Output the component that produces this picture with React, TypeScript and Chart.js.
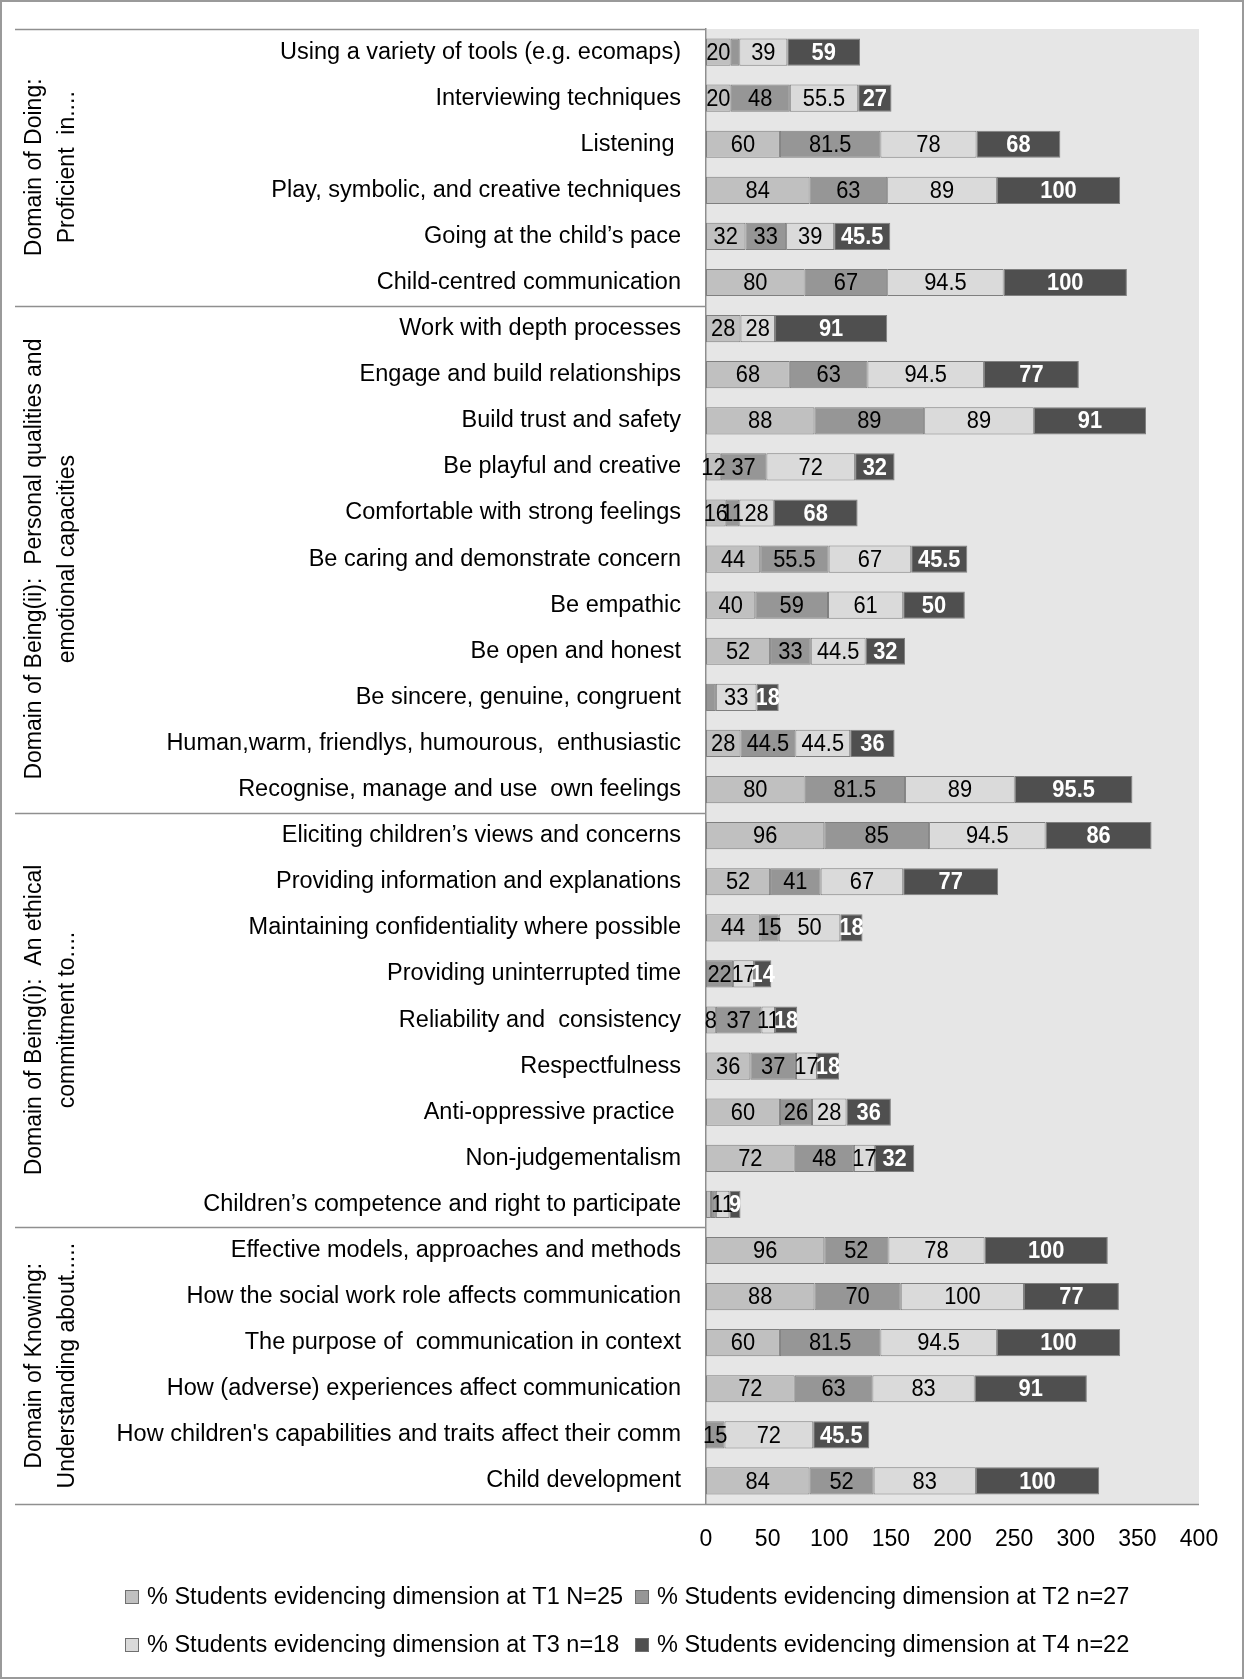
import React, { useEffect, useRef } from "react";
import { Chart, registerables } from "chart.js";

Chart.register(...registerables);

const categories = [
  "Using a variety of tools (e.g. ecomaps)",
  "Interviewing techniques",
  "Listening ",
  "Play, symbolic, and creative techniques",
  "Going at the child\u2019s pace",
  "Child-centred communication",
  "Work with depth processes",
  "Engage and build relationships",
  "Build trust and safety",
  "Be playful and creative",
  "Comfortable with strong feelings",
  "Be caring and demonstrate concern",
  "Be empathic",
  "Be open and honest",
  "Be sincere, genuine, congruent",
  "Human,warm, friendlys, humourous,  enthusiastic",
  "Recognise, manage and use  own feelings",
  "Eliciting children\u2019s views and concerns",
  "Providing information and explanations",
  "Maintaining confidentiality where possible",
  "Providing uninterrupted time",
  "Reliability and  consistency",
  "Respectfulness",
  "Anti-oppressive practice ",
  "Non-judgementalism",
  "Children\u2019s competence and right to participate",
  "Effective models, approaches and methods",
  "How the social work role affects communication",
  "The purpose of  communication in context",
  "How (adverse) experiences affect communication",
  "How children's capabilities and traits affect their comm",
  "Child development",
];

const seriesNames = [
  "% Students evidencing dimension at T1 N=25",
  "% Students evidencing dimension at T2 n=27",
  "% Students evidencing dimension at T3 n=18",
  "% Students evidencing dimension at T4 n=22",
];

const t1 = [20, 20, 60, 84, 32, 80, 28, 68, 88, 12, 16, 44, 40, 52, 0, 28, 80, 96, 52, 44, 0, 8, 36, 60, 72, 4, 96, 88, 60, 72, 0, 84];
const t2 = [7, 48, 81.5, 63, 33, 67, 0, 63, 89, 37, 11, 55.5, 59, 33, 8, 44.5, 81.5, 85, 41, 15, 22, 37, 37, 26, 48, 4, 52, 70, 81.5, 63, 15, 52];
const t3 = [39, 55.5, 78, 89, 39, 94.5, 28, 94.5, 89, 72, 28, 67, 61, 44.5, 33, 44.5, 89, 94.5, 67, 50, 17, 11, 17, 28, 17, 11, 78, 100, 94.5, 83, 72, 83];
const t4 = [59, 27, 68, 100, 45.5, 100, 91, 77, 91, 32, 68, 45.5, 50, 32, 18, 36, 95.5, 86, 77, 18, 14, 18, 18, 36, 32, 9, 100, 77, 100, 91, 45.5, 100];

// labels not shown in the original: [category index, series index]
const hiddenLabels = [[0, 1], [14, 1], [25, 0], [25, 1]];

const groupSizes = [6, 11, 9, 6];
const groupLines = [
  ["Domain of Doing:", "Proficient  in...."],
  ["Domain of Being(ii):  Personal qualities and", "emotional capacities"],
  ["Domain of Being(i):  An ethical", "commitment to...."],
  ["Domain of Knowing:", "Understanding about....."],
];

const xTicks = [0, 50, 100, 150, 200, 250, 300, 350, 400];

const colors = ["#c0c0c0", "#969696", "#dadada", "#4f4f4f"];
const FONT = "'Liberation Sans', Arial, sans-serif";
const LINE = "#8f8f8f";

const decor = {
  id: "decor",
  beforeDraw(chart: any) {
    const { ctx, chartArea: a } = chart;
    ctx.save();
    ctx.fillStyle = "#ffffff";
    ctx.fillRect(0, 0, chart.width, chart.height);
    ctx.fillStyle = "#e6e6e6";
    ctx.fillRect(a.left, a.top, a.right - a.left, a.bottom - a.top);
    ctx.restore();
  },
  afterDatasetsDraw(chart: any) {
    const { ctx } = chart;
    ctx.save();
    ctx.textAlign = "center";
    ctx.textBaseline = "middle";
    chart.data.datasets.forEach((ds: any, di: number) => {
      const meta = chart.getDatasetMeta(di);
      meta.data.forEach((el: any, j: number) => {
        const v = ds.data[j];
        if (!v) return;
        if (hiddenLabels.some((h) => h[0] === j && h[1] === di)) return;
        const cx = (el.x + el.base) / 2;
        if (di === 3) {
          ctx.fillStyle = "#ffffff";
          ctx.font = `bold 23px ${FONT}`;
        } else {
          ctx.fillStyle = "#000000";
          ctx.font = `23px ${FONT}`;
        }
        ctx.save();
        ctx.translate(cx, el.y + 1);
        ctx.scale(0.95, 1.05);
        ctx.fillText(String(v), 0, 0);
        ctx.restore();
      });
    });
    ctx.restore();
  },
  afterDraw(chart: any) {
    const { ctx, chartArea: a } = chart;
    const ys = chart.scales.y;
    const leftX = 15;
    ctx.save();
    ctx.strokeStyle = LINE;
    ctx.lineWidth = 1.5;
    const boundary = (i: number) => {
      if (i <= 0) return a.top;
      if (i >= categories.length) return a.bottom;
      return (ys.getPixelForValue(i - 1) + ys.getPixelForValue(i)) / 2;
    };
    let start = 0;
    const bounds = [0];
    groupSizes.forEach((s) => {
      start += s;
      bounds.push(start);
    });
    bounds.forEach((b, k) => {
      const y = Math.round(boundary(b)) + 0.5;
      ctx.beginPath();
      ctx.moveTo(leftX, y);
      ctx.lineTo(k === bounds.length - 1 ? a.right : a.left, y);
      ctx.stroke();
    });
    ctx.fillStyle = "#000";
    ctx.font = `23px ${FONT}`;
    ctx.textAlign = "center";
    ctx.textBaseline = "middle";
    for (let g = 0; g < groupSizes.length; g++) {
      const y0 = boundary(bounds[g]);
      const y1 = boundary(bounds[g + 1]);
      const cy = (y0 + y1) / 2;
      const xs = [35, 68];
      groupLines[g].forEach((line, li) => {
        ctx.save();
        ctx.translate(xs[li], cy);
        ctx.rotate(-Math.PI / 2);
        ctx.fillText(line, 0, 0);
        ctx.restore();
      });
    }
    const colX = [125, 635];
    const rowY = [1597, 1645];
    ctx.font = `23.5px ${FONT}`;
    ctx.textAlign = "left";
    chart.data.datasets.forEach((ds: any, i: number) => {
      const x = colX[i % 2];
      const y = rowY[Math.floor(i / 2)];
      ctx.fillStyle = ds.backgroundColor;
      ctx.fillRect(x, y - 7, 14, 14);
      ctx.strokeStyle = "#6f6f6f";
      ctx.lineWidth = 1;
      ctx.strokeRect(x + 0.5, y - 6.5, 13, 13);
      ctx.fillStyle = "#000";
      ctx.fillText(ds.label, x + 22, y + 1);
    });
    ctx.strokeStyle = "#9a9a9a";
    ctx.lineWidth = 2;
    ctx.strokeRect(1, 1, chart.width - 2, chart.height - 2);
    ctx.restore();
  },
};

export default function App() {
  const ref = useRef<HTMLCanvasElement | null>(null);
  useEffect(() => {
    document.body.style.margin = "0";
    const canvas = ref.current;
    if (!canvas) return;
    const data = [t1, t2, t3, t4];
    const chart = new Chart(canvas, {
      type: "bar",
      data: {
        labels: categories,
        datasets: data.map((d, i) => ({
          label: seriesNames[i],
          data: d,
          backgroundColor: colors[i],
          borderColor: "#7f7f7f",
          borderWidth: 1,
          borderSkipped: false,
          categoryPercentage: 1,
          barPercentage: 0.59,
        })),
      },
      options: {
        indexAxis: "y",
        responsive: false,
        animation: false,
        devicePixelRatio: 1,
        layout: { padding: { top: 29, right: 45, left: 0, bottom: 0 } },
        plugins: {
          legend: { display: false },
          tooltip: { enabled: false },
          title: { display: false },
        },
        scales: {
          x: {
            stacked: true,
            min: 0,
            max: 400,
            afterBuildTicks: (scale: any) => {
              scale.ticks = xTicks.map((v) => ({ value: v }));
            },
            afterFit: (scale: any) => {
              scale.height = 175;
            },
            grid: { display: false, drawTicks: false },
            border: { display: false },
            ticks: {
              color: "#000",
              font: { family: FONT, size: 23 },
              padding: 22,
              maxRotation: 0,
              autoSkip: false,
            },
          },
          y: {
            stacked: true,
            afterFit: (scale: any) => {
              scale.width = 706;
              scale.paddingTop = 0;
              scale.paddingBottom = 0;
            },
            grid: { display: false, drawTicks: false },
            border: { display: true, color: LINE, width: 1.5 },
            ticks: {
              color: "#000",
              font: { family: FONT, size: 23.5 },
              padding: 25,
              autoSkip: false,
            },
          },
        },
      } as any,
      plugins: [decor],
    });
    return () => chart.destroy();
  }, []);
  return (
    <div style={{ width: 1244, height: 1679 }}>
      <canvas ref={ref} width={1244} height={1679} style={{ display: "block" }} />
    </div>
  );
}
